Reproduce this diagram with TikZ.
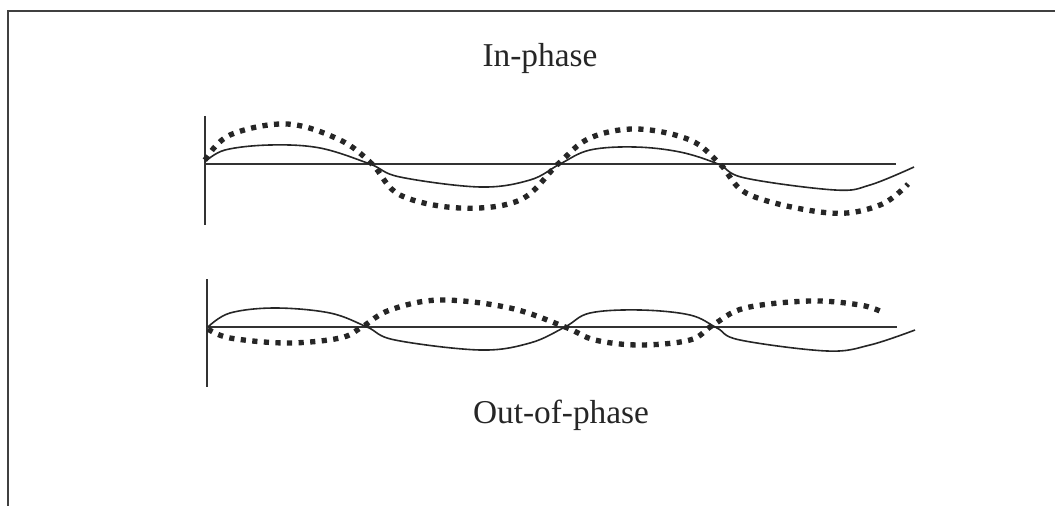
\documentclass[tikz,border=0pt]{standalone}
\usepackage{fontspec}
\setmainfont{Liberation Serif}
\tikzset{
  frameline/.style={line width=1.6pt, draw=black!75},
  axisline/.style={line width=1.3pt, draw=black!80},
  solidwave/.style={line width=1.2pt, draw=black!85},
  dotwave/.style={line width=4pt, draw=black!85, dash pattern=on 3.9pt off 4.8pt, line cap=butt},
  lbl/.style={font=\fontsize{25}{30}\selectfont, text=black!85, inner sep=0pt}
}
\begin{document}
\begin{tikzpicture}[x=0.75pt, y=-0.75pt]
\useasboundingbox (0,0) rectangle (1055,506);
% frame
\draw[frameline] (8,506) -- (8,11) -- (1055,11);
% labels
\node[lbl] (inphase) at (540,58) {In-phase};
\node[lbl] (outphase) at (561,415) {Out-of-phase};
% top axes
\coordinate (tvt) at (205,116);
\coordinate (tvb) at (205,225);
\coordinate (thl) at (205,164);
\coordinate (thr) at (896,164);
\draw[axisline] (tvt) -- (tvb);
\draw[axisline] (thl) -- (thr);
% top solid wave
\draw[solidwave] plot[smooth, tension=0.6] coordinates {(205,162) (225,150) (270,145) (320,148) (370,164) (400,177) (480,187) (530,180) (560,164) (590,150) (635,147) (680,152) (718,164) (745,178) (835,190) (870,185) (914,167)};
% top dotted wave
\draw[dotwave] plot[smooth, tension=0.6] coordinates {(205,160) (230,135) (287,124) (340,140) (372,164) (400,195) (460,208) (520,200) (558,164) (590,138) (637,129) (690,140) (720,164) (750,195) (830,213) (880,205) (908,184)};
% bottom axes
\coordinate (bvt) at (207,279);
\coordinate (bvb) at (207,387);
\coordinate (bhl) at (207,327);
\coordinate (bhr) at (897,327);
\draw[axisline] (bvt) -- (bvb);
\draw[axisline] (bhl) -- (bhr);
% bottom solid wave
\draw[solidwave] plot[smooth, tension=0.6] coordinates {(208,327) (230,313) (275,308) (330,313) (367,327) (395,340) (480,350) (530,343) (565,327) (590,313) (640,310) (690,315) (717,328) (740,340) (827,351) (870,345) (915,330)};
% bottom dotted wave
\draw[dotwave] plot[smooth, tension=0.6] coordinates {(208,329) (230,338) (287,343) (340,338) (362,327) (390,310) (440,300) (510,308) (565,327) (595,340) (640,345) (690,340) (713,325) (745,308) (810,301) (860,305) (882,312)};
\end{tikzpicture}
\end{document}
